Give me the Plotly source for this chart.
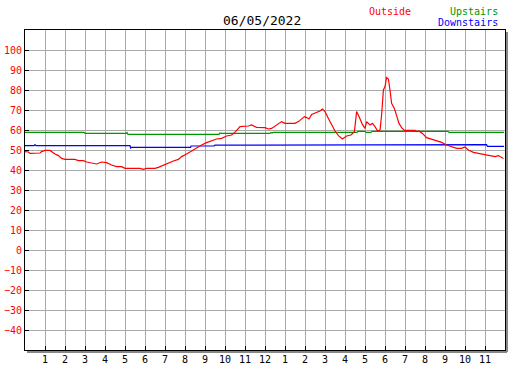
import plotly.graph_objects as go

# ---- data ----
title_text = "06/05/2022"

outside_hours = [0.0, 0.17, 0.25, 0.5, 0.75, 0.83, 1.0, 1.25, 1.33, 1.5, 1.67, 1.83, 2.0, 2.5, 2.67, 2.92,
                 3.08, 3.33, 3.58, 3.83, 4.08, 4.33, 4.58, 4.83, 5.0, 5.75, 5.92, 6.08, 6.5, 6.67, 6.92,
                 7.17, 7.42, 7.67, 7.83, 8.08, 8.33, 8.58, 8.83, 9.08, 9.33, 9.58, 9.83, 10.08, 10.33,
                 10.53, 10.75, 11.0, 11.17, 11.33, 11.58, 12.0, 12.17, 12.33, 12.58, 12.83, 13.0, 13.5,
                 13.67, 13.83, 13.97, 14.08, 14.2, 14.33, 14.58, 14.75, 14.87, 15.0, 15.17, 15.33, 15.5,
                 15.67, 15.87, 16.08, 16.3, 16.47, 16.53, 16.58, 16.7, 16.87, 17.0, 17.08, 17.25, 17.37,
                 17.5, 17.63, 17.75, 17.83, 17.92, 18.0, 18.08, 18.17, 18.25, 18.33, 18.47, 18.58, 18.7,
                 18.83, 18.97, 19.5, 19.58, 19.7, 19.87, 20.08, 20.33, 20.58, 20.83, 21.08, 21.33, 21.58,
                 21.83, 22.0, 22.17, 22.42, 22.67, 22.92, 23.17, 23.5, 23.67, 23.92]
outside_values = [49.2, 49.0, 48.3, 48.3, 48.5, 49.2, 49.8, 49.8, 49.2, 48.0, 47.2, 45.8, 45.3, 45.3, 44.7, 44.7,
                  44.0, 43.5, 43.0, 44.0, 43.7, 42.5, 41.7, 41.7, 40.8, 40.8, 40.3, 40.8, 40.8, 41.3, 42.5,
                  43.3, 44.5, 45.3, 46.7, 48.0, 49.5, 51.2, 52.5, 53.7, 54.7, 55.5, 55.8, 57.0, 57.5,
                  59.2, 61.7, 61.7, 62.0, 62.5, 61.3, 61.2, 60.5, 60.8, 62.5, 64.2, 63.3, 63.3,
                  64.2, 65.5, 66.7, 66.2, 65.5, 67.8, 68.8, 69.5, 70.5, 69.2, 65.8, 62.5, 59.5,
                  57.2, 55.5, 57.0, 57.5, 59.2, 64.2, 69.2, 66.7, 62.8, 60.8, 64.2, 62.5, 63.3,
                  61.7, 59.5, 60.0, 67.5, 80.0, 81.7, 86.2, 85.5, 80.0, 73.3, 70.8, 66.7, 63.3,
                  61.2, 59.8, 59.8, 59.2, 59.5, 58.3, 56.2, 55.5, 54.8, 53.8, 52.5, 51.5, 50.8,
                  50.8, 51.5, 50.0, 48.8, 48.3, 47.8, 47.0, 46.7, 47.2, 45.8]

upstairs_hours = [0.0, 2.95, 3.0, 5.05, 5.1, 5.15, 9.7, 9.75, 9.8, 12.25, 12.3, 12.35, 12.4, 16.6, 16.65,
                  17.0, 17.05, 17.3, 17.35, 21.15, 21.2, 23.95]
upstairs_values = [58.8, 58.8, 58.3, 58.3, 58.8, 57.8, 57.8, 58.5, 58.3, 58.3, 58.8, 58.5, 58.8, 58.8, 59.3,
                   59.3, 58.8, 58.8, 59.3, 59.3, 58.8, 58.8]

downstairs_hours = [0.0, 0.45, 0.5, 0.55, 5.25, 5.28, 5.32, 8.28, 8.3, 9.45, 9.5, 23.05, 23.08, 23.12, 23.95]
downstairs_values = [52.2, 52.2, 52.7, 52.2, 52.2, 51.0, 51.3, 51.3, 52.0, 52.0, 52.4, 52.4, 52.7, 51.8, 51.8]

x_tickvals = list(range(1, 24))
x_ticktext = [str(h) for h in range(1, 12)] + ["12"] + [str(h) for h in range(1, 12)]
y_tickvals = list(range(-40, 101, 10))

legend_names = ["Outside", "Upstairs", "Downstairs"]
colors = ["#ff0000", "#009600", "#0000ff"]

FONT = "DejaVu Sans Mono"

fig = go.Figure()
fig.add_trace(go.Scatter(x=upstairs_hours, y=upstairs_values, mode="lines",
                         line=dict(color=colors[1], width=1.2), name=legend_names[1]))
fig.add_trace(go.Scatter(x=downstairs_hours, y=downstairs_values, mode="lines",
                         line=dict(color=colors[2], width=1.2), name=legend_names[2]))
fig.add_trace(go.Scatter(x=outside_hours, y=outside_values, mode="lines",
                         line=dict(color=colors[0], width=1.2), name=legend_names[0]))

W, H = 527, 370
ml, mr, mt, mb = 25, 22, 30, 20
pw, ph = W - ml - mr, H - mt - mb

fig.update_layout(
    width=W, height=H,
    margin=dict(l=ml, r=mr, t=mt, b=mb, pad=0, autoexpand=False),
    paper_bgcolor="white", plot_bgcolor="white",
    showlegend=False, hovermode=False,
    font=dict(family=FONT, size=10, color="black"),
)
fig.update_xaxes(
    range=[0, 24], tickvals=x_tickvals, ticktext=x_ticktext, automargin=False,
    showgrid=True, gridcolor="#aaaaaa", gridwidth=1,
    ticks="inside", ticklen=4, tickcolor="black", tickwidth=1,
    showline=True, linecolor="black", linewidth=1, mirror=True,
    zeroline=False, tickfont=dict(family=FONT, size=10, color="black"),
)
fig.update_yaxes(
    range=[-50, 110], tickvals=y_tickvals, automargin=False,
    showgrid=True, gridcolor="#aaaaaa", gridwidth=1,
    ticks="inside", ticklen=4, tickcolor="black", tickwidth=1,
    showline=True, linecolor="black", linewidth=1, mirror=True,
    zeroline=False, tickfont=dict(family=FONT, size=10, color="#ff0000"),
)

# drop shadow of the plot frame (right and bottom)
dx, dy = 1.0 / pw, 1.0 / ph
fig.add_shape(type="line", xref="paper", yref="paper", x0=1 + 2 * dx, x1=1 + 2 * dx, y0=-2 * dy, y1=1 - 2 * dy,
              line=dict(color="#888888", width=2))
fig.add_shape(type="line", xref="paper", yref="paper", x0=2 * dx, x1=1 + 2 * dx, y0=-2 * dy, y1=-2 * dy,
              line=dict(color="#888888", width=2))

def px_x(x):
    return (x - ml) / pw

def px_y(y):
    return (H - mb - y) / ph

fig.add_annotation(text=title_text, x=px_x(262), y=px_y(20), xref="paper", yref="paper",
                   showarrow=False, xanchor="center", yanchor="middle",
                   font=dict(family=FONT, size=13, color="black"))
fig.add_annotation(text=legend_names[0], x=px_x(390), y=px_y(11), xref="paper", yref="paper",
                   showarrow=False, xanchor="center", yanchor="middle",
                   font=dict(family=FONT, size=10, color=colors[0]))
fig.add_annotation(text=legend_names[1], x=px_x(500), y=px_y(11), xref="paper", yref="paper",
                   showarrow=False, xanchor="right", yanchor="middle",
                   font=dict(family=FONT, size=10, color=colors[1]))
fig.add_annotation(text=legend_names[2], x=px_x(500), y=px_y(23), xref="paper", yref="paper",
                   showarrow=False, xanchor="right", yanchor="middle",
                   font=dict(family=FONT, size=10, color=colors[2]))

fig.write_html("out.html", config={"displayModeBar": False},
               post_script="document.body.style.margin='0';document.body.style.overflow='hidden';")
